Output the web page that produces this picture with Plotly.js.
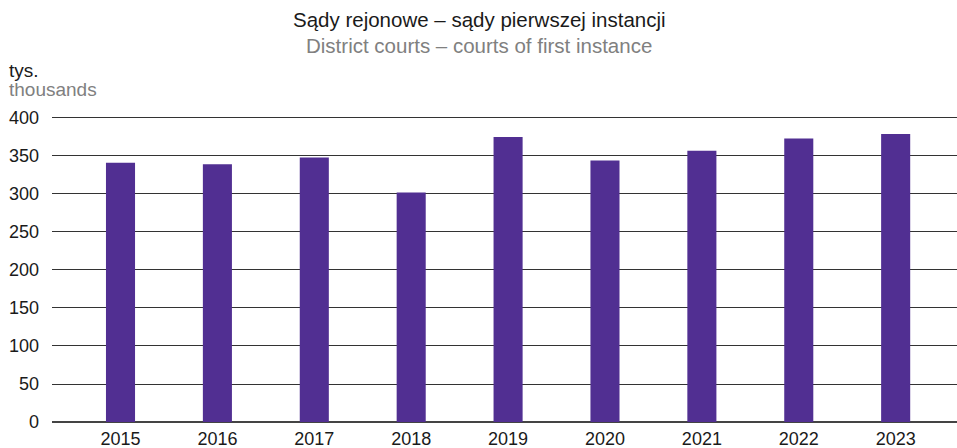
<!DOCTYPE html>
<html>
<head>
<meta charset="utf-8">
<script src="https://cdn.plot.ly/plotly-3.0.1.min.js"></script>
<style>html,body{margin:0;padding:0;background:#fff;overflow:hidden;}#chart{width:957px;height:448px;}</style>
</head>
<body>
<div id="chart"></div>
<script>
var years = ["2015","2016","2017","2018","2019","2020","2021","2022","2023"];
var values = [341, 339, 348, 302, 375, 344, 357, 373, 379];
var yTicks = [0, 50, 100, 150, 200, 250, 300, 350, 400];

var FONT = "Liberation Sans, Arial, sans-serif";
var trace = {
  type: "bar",
  x: years,
  y: values,
  width: 0.3,
  marker: {color: "#512f92"},
  hoverinfo: "x+y"
};
var layout = {
  width: 957, height: 448,
  margin: {l: 52, r: 0, t: 116, b: 26, pad: 0},
  paper_bgcolor: "#fff", plot_bgcolor: "#fff",
  showlegend: false,
  font: {family: FONT, size: 18, color: "#1a1a1a"},
  xaxis: {
    type: "category",
    range: [-0.707, 8.633],
    showgrid: false, showline: false, zeroline: false,
    ticks: "", ticklabelstandoff: 4,
    tickfont: {family: FONT, size: 18, color: "#1a1a1a"}
  },
  yaxis: {
    range: [0, 402.6],
    tickvals: yTicks,
    ticktext: yTicks.map(String),
    showgrid: true, gridcolor: "#333", gridwidth: 1,
    zeroline: true, zerolinecolor: "#444", zerolinewidth: 1.5,
    showline: false, ticks: "", ticklabelstandoff: 12,
    tickfont: {family: FONT, size: 18, color: "#1a1a1a"}
  },
  annotations: [
    {text: "Sądy rejonowe – sądy pierwszej instancji", xref: "paper", yref: "paper",
     x: 0.472, y: 1.315, xanchor: "center", yanchor: "middle", showarrow: false,
     font: {family: FONT, size: 20.5, color: "#1a1a1a"}},
    {text: "District courts – courts of first instance", xref: "paper", yref: "paper",
     x: 0.472, y: 1.229, xanchor: "center", yanchor: "middle", showarrow: false,
     font: {family: FONT, size: 20.5, color: "#808080"}},
    {text: "tys.", xref: "paper", yref: "paper",
     x: -0.05, y: 1.150, xanchor: "left", yanchor: "middle", showarrow: false,
     font: {family: FONT, size: 19, color: "#1a1a1a"}},
    {text: "thousands", xref: "paper", yref: "paper",
     x: -0.05, y: 1.087, xanchor: "left", yanchor: "middle", showarrow: false,
     font: {family: FONT, size: 19, color: "#808080"}}
  ]
};
Plotly.newPlot("chart", [trace], layout, {displayModeBar: false, staticPlot: true});
</script>
</body>
</html>
